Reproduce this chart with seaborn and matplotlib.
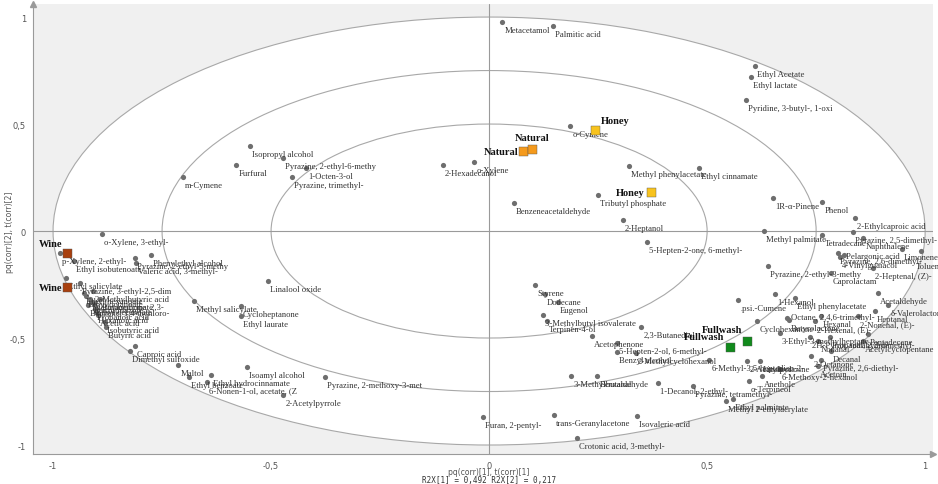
import matplotlib
matplotlib.use("Agg")
import matplotlib.pyplot as plt
from matplotlib.patches import Ellipse
import pandas as pd
import seaborn as sns

# ---------------- data ----------------
var_names = [
    "Metacetamol", "Palmitic acid", "Ethyl Acetate", "Ethyl lactate", "Pyridine, 3-butyl-, 1-oxi",
    "o-Cymene", "Isopropyl alcohol", "Pyrazine, 2-ethyl-6-methy", "1-Octen-3-ol", "Pyrazine, trimethyl-",
    "Furfural", "m-Cymene", "2-Hexadecanol", "o-Xylene", "Methyl phenylacetate",
    "Ethyl cinnamate", "Tributyl phosphate", "Benzeneacetaldehyde", "2-Heptanol", "5-Hepten-2-one, 6-methyl-",
    "1R-α-Pinene", "Phenol", "2-Ethylcaproic acid", "Methyl palmitate", "Tetradecane",
    "Pyrazine, 2,5-dimethyl-", "Naphthalene", "Pyrazine, 2,6-dimethyl-", "Pelargonic acid", "4-Vinylguaiacol",
    "Limonene", "Toluene", "2-Heptenal, (Z)-", "Pyrazine, 2-ethyl-3-methy", "Caprolactam",
    "Acetaldehyde", "δ-Valerolactone", "2-Nonenal, (E)-", "Heptanal", ".psi.-Cumene",
    "1-Hexanol", "Ethyl phenylacetate", "Octane, 2,4,6-trimethyl-", "Cyclohexanone", "Butyrolactone",
    "Hexanal", "2-Hexenal, (E)-", "3-Ethyl-3-methylheptane", "2H-Pyran, tetrahydro-", "Nonanal",
    "Propanal, 2,2-dimethyl-", "Pentadecane", "Acetylcyclopentane", "Decanal", "2-Octanone",
    "Pyrazine, 2,6-diethyl-", "Acetoin", "6-Methyl-3,5-heptadien-2-", "2-Acetylpyrazine", "Linalool",
    "6-Methoxy-2-hexanol", "Anethole", "α-Terpineol", "Pyrazine, tetramethyl-", "1-Decanol, 2-ethyl-",
    "Ethyl palmitate", "Methyl 2-ethylacrylate", "Styrene", "Dodecane", "Eugenol",
    "3-Methylbutyl isovalerate", "Terpinen-4-ol", "2,3-Butanediol", "Acetophenone", "5-Hepten-2-ol, 6-methyl-",
    "Benzyl alcohol", "2-Methylcyclohexanol", "3-Methylbutanal", "Benzaldehyde", "Furan, 2-pentyl-",
    "trans-Geranylacetone", "Isovaleric acid", "Crotonic acid, 3-methyl-", "o-Xylene, 3-ethyl-", "p-Xylene, 2-ethyl-",
    "Ethyl isobutenoate", "Pyrazine, 2-ethyl-5-methy", "Phenylethyl alcohol", "Valeric acid, 3-methyl-", "Ethyl salicylate",
    "Pyrazine, 3-ethyl-2,5-dim", "2-Methylbutyric acid", "Ethyl hexanoate", "Ethyl octanoate", "Butanedione, 2,3-",
    "Diethyl succinate", "Benzothiazole", "Benzene, 1,4-dichloro-", "Ethyl decanoate", "Propanoic acid",
    "Hexanoic acid", "Acetic acid", "Isobutyric acid", "Butyric acid", "Methyl salicylate",
    "Cycloheptanone", "Ethyl laurate", "Linalool oxide", "Caproic acid", "Dimethyl sulfoxide",
    "Maltol", "Ethyl benzoate", "Ethyl hydrocinnamate", "6-Nonen-1-ol, acetate, (Z", "Isoamyl alcohol",
    "2-Acetylpyrrole", "Pyrazine, 2-methoxy-3-met",
]
var_x = [
    0.030, 0.147, 0.610, 0.601, 0.589,
    0.186, -0.548, -0.472, -0.420, -0.452,
    -0.580, -0.702, -0.106, -0.034, 0.321,
    0.482, 0.250, 0.057, 0.307, 0.362,
    0.651, 0.764, 0.839, 0.631, 0.764,
    0.835, 0.858, 0.800, 0.814, 0.805,
    0.947, 0.991, 0.881, 0.640, 0.784,
    0.892, 0.915, 0.846, 0.885, 0.571,
    0.656, 0.702, 0.683, 0.615, 0.688,
    0.761, 0.748, 0.667, 0.736, 0.755,
    0.782, 0.869, 0.858, 0.784, 0.739,
    0.761, 0.755, 0.505, 0.592, 0.622,
    0.667, 0.626, 0.596, 0.468, 0.388,
    0.560, 0.544, 0.106, 0.128, 0.158,
    0.124, 0.133, 0.349, 0.236, 0.294,
    0.294, 0.337, 0.188, 0.248, -0.014,
    0.149, 0.339, 0.202, -0.888, -0.984,
    -0.952, -0.812, -0.775, -0.810, -0.970,
    -0.938, -0.908, -0.929, -0.924, -0.892,
    -0.915, -0.911, -0.920, -0.906, -0.904,
    -0.901, -0.897, -0.881, -0.878, -0.677,
    -0.569, -0.569, -0.507, -0.812, -0.823,
    -0.713, -0.688, -0.638, -0.647, -0.555,
    -0.472, -0.376,
]
var_y = [
    0.977, 0.958, 0.771, 0.720, 0.612,
    0.491, 0.397, 0.341, 0.294, 0.252,
    0.308, 0.252, 0.308, 0.322, 0.304,
    0.294, 0.168, 0.131, 0.051, -0.051,
    0.154, 0.136, 0.061, 0.000, -0.019,
    -0.005, -0.033, -0.103, -0.112, -0.121,
    -0.084, -0.093, -0.173, -0.164, -0.196,
    -0.290, -0.346, -0.397, -0.374, -0.322,
    -0.294, -0.313, -0.407, -0.421, -0.416,
    -0.397, -0.421, -0.477, -0.495, -0.514,
    -0.495, -0.481, -0.514, -0.561, -0.584,
    -0.603, -0.631, -0.603, -0.607, -0.607,
    -0.645, -0.678, -0.701, -0.724, -0.710,
    -0.785, -0.794, -0.252, -0.294, -0.332,
    -0.393, -0.421, -0.449, -0.491, -0.523,
    -0.565, -0.570, -0.678, -0.678, -0.869,
    -0.860, -0.864, -0.967, -0.014, -0.103,
    -0.140, -0.126, -0.112, -0.150, -0.220,
    -0.243, -0.280, -0.290, -0.304, -0.318,
    -0.318, -0.332, -0.346, -0.341, -0.364,
    -0.379, -0.393, -0.425, -0.449, -0.327,
    -0.350, -0.397, -0.234, -0.537, -0.561,
    -0.626, -0.682, -0.673, -0.706, -0.636,
    -0.766, -0.682,
]

sample_names = ["Wine", "Wine", "Natural", "Natural", "Honey", "Honey", "Fullwash", "Fullwash"]
sample_x = [-0.968, -0.966, 0.080, 0.099, 0.243, 0.372, 0.553, 0.592]
sample_y = [-0.107, -0.262, 0.374, 0.379, 0.472, 0.178, -0.542, -0.514]

tick_values = [-1, -0.5, 0, 0.5, 1]
tick_labels = ["-1", "-0,5", "0", "0,5", "1"]
minor_tick_values = [-0.75, -0.25, 0.25, 0.75]
circle_radii = [1.0, 0.75, 0.5]
r2x_values = ["0,492", "0,217"]
x_label = "pq(corr)[1], t(corr)[1]"
y_label = "pq(corr)[2], t(corr)[2]"

# ---------------- styles ----------------
group_colors = {"Wine": "#a8400f", "Natural": "#f59a1c", "Honey": "#f8c31e", "Fullwash": "#118a1c"}
# label offsets (points) for sample labels: dx, dy, ha
sample_label_style = [(-3.6, 7.2, "right"), (-4.3, 0, "right"), (-4.3, 0, "right"), (0, 8.6, "center"),
                      (4.3, 7.2, "left"), (-5.0, 0, "right"), (-4.3, 7.6, "right"), (-3.6, 8.3, "right")]
default_offset = (1.5, -5.8)
special_offsets = {
    "Octane, 2,4,6-trimethyl-": (3.0, 0.5),
    "Toluene": (-4.0, -11.0),
    "Pelargonic acid": (1.5, -1.0),
}

sns.set_style("white")
plt.rcParams["font.family"] = ["DejaVu Sans"]

fig = plt.figure(figsize=(9.38, 4.85), dpi=100)
ax = fig.add_axes([33 / 938, 1 - 455 / 485, 900 / 938, 450 / 485])
ax.set_facecolor("#f0f0f0")
ax.set_xlim(-1.046, 1.018)
ax.set_ylim(-1.042, 1.061)

ax.add_patch(Ellipse((0, 0), 2, 2, facecolor="white", edgecolor="none", zorder=0))
for r in circle_radii:
    ax.add_patch(Ellipse((0, 0), 2 * r, 2 * r, facecolor="none", edgecolor="#a8a8a8", lw=0.8, zorder=1))
ax.axhline(0, color="#9a9a9a", lw=0.8, zorder=1)
ax.axvline(0, color="#9a9a9a", lw=0.8, zorder=1)

df_vars = pd.DataFrame({"name": var_names, "x": var_x, "y": var_y})
df_samp = pd.DataFrame({"group": sample_names, "x": sample_x, "y": sample_y})

sns.scatterplot(data=df_vars, x="x", y="y", color="#6e6e6e", s=14, linewidth=0, ax=ax, legend=False, zorder=3)
sns.scatterplot(data=df_samp, x="x", y="y", hue="group", palette=group_colors, marker="s", s=42,
                linewidth=0.3, edgecolor="#555555", ax=ax, legend=False, zorder=5)

for n, x, y in zip(var_names, var_x, var_y):
    dx, dy = special_offsets.get(n, default_offset)
    ax.annotate(n, (x, y), xytext=(dx, dy), textcoords="offset points", ha="left", va="center",
                fontsize=6.2, family="Liberation Serif", color="#333333", zorder=4,
                annotation_clip=False)

for (n, x, y), (dx, dy, ha) in zip(zip(sample_names, sample_x, sample_y), sample_label_style):
    ax.annotate(n, (x, y), xytext=(dx, dy), textcoords="offset points", ha=ha, va="center",
                fontsize=7.5, family="Liberation Serif", fontweight="bold", color="#111111", zorder=6,
                annotation_clip=False)

# axes styling
for s in ["top", "right"]:
    ax.spines[s].set_visible(False)
for s in ["left", "bottom"]:
    ax.spines[s].set_color("#9a9a9a")
    ax.spines[s].set_linewidth(0.8)
ax.set_xticks(tick_values)
ax.set_xticklabels(tick_labels)
ax.set_yticks(tick_values)
ax.set_yticklabels(tick_labels)
ax.set_xticks(minor_tick_values, minor=True)
ax.set_yticks(minor_tick_values, minor=True)
ax.tick_params(axis="both", which="both", direction="out", color="#9a9a9a", labelcolor="#555555",
               labelsize=6, length=3, width=0.7, pad=2)
ax.tick_params(which="minor", length=2)
ax.set_xlabel("")
ax.set_ylabel("")
ax.plot([0], [1], marker="^", color="#9a9a9a", ms=4, transform=ax.transAxes, clip_on=False)
ax.plot([1], [0], marker=">", color="#9a9a9a", ms=4, transform=ax.transAxes, clip_on=False)

fig.text(489 / 938, 1 - 473 / 485, x_label, ha="center", va="center", fontsize=5.5, color="#555555")
fig.text(489 / 938, 1 - 481 / 485, "R2X[1] = %s R2X[2] = %s" % tuple(r2x_values), ha="center", va="center",
         fontsize=5.5, family="DejaVu Sans Mono", color="#333333")
fig.text(10 / 938, 1 - 232 / 485, y_label, ha="center", va="center", rotation=90, fontsize=5.5, color="#555555")

fig.savefig("out.png", dpi=100)
